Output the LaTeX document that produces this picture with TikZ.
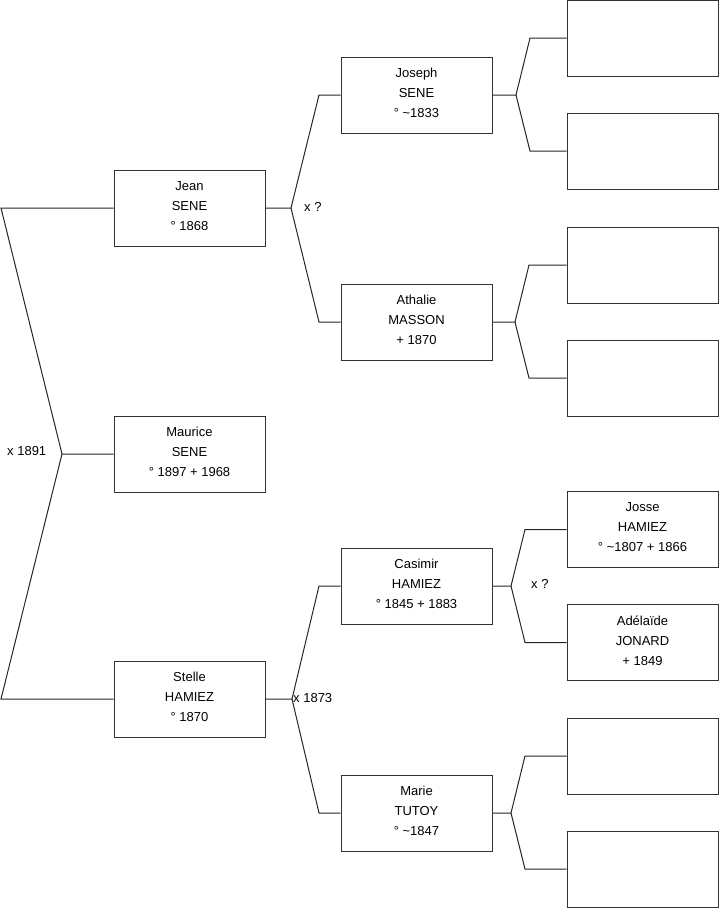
\documentclass[tikz,border=0pt]{standalone}
\usepackage{fontspec}
\setmainfont{Liberation Sans}
\begin{document}
\begin{tikzpicture}[x=1pt,y=-1pt,
  person/.style={draw=black!80,line width=1pt,fill=white,minimum width=151pt,minimum height=76pt,
    inner sep=0pt},
  ptext/.style={inner sep=0pt,align=center,yshift=2pt,font=\fontsize{13}{20}\selectfont},
  link/.style={draw=black!85,line width=1pt},
  union/.style={anchor=west,inner sep=0pt,font=\fontsize{13}{15}\selectfont}]
\useasboundingbox (0,0) rectangle (719,908);
% generation 1
\node[person,label={[ptext]center:Jean\\SENE\\° 1868}] (jean) at (189.5,208) {};
\node[person,label={[ptext]center:Maurice\\SENE\\° 1897 + 1968}] (maurice) at (189.5,454) {};
\node[person,label={[ptext]center:Stelle\\HAMIEZ\\° 1870}] (stelle) at (189.5,699) {};
% generation 2
\node[person,label={[ptext]center:Joseph\\SENE\\° \textasciitilde1833}] (joseph) at (416.5,95) {};
\node[person,label={[ptext]center:Athalie\\MASSON\\+ 1870}] (athalie) at (416.5,322) {};
\node[person,label={[ptext]center:Casimir\\HAMIEZ\\° 1845 + 1883}] (casimir) at (416.5,586) {};
\node[person,label={[ptext]center:Marie\\TUTOY\\° \textasciitilde1847}] (marie) at (416.5,813) {};
% generation 3
\node[person] (g1) at (642.5,38) {};
\node[person] (g2) at (642.5,151) {};
\node[person] (g3) at (642.5,265) {};
\node[person] (g4) at (642.5,378) {};
\node[person,label={[ptext]center:Josse\\HAMIEZ\\° \textasciitilde1807 + 1866}] (josse) at (642.5,529.5) {};
\node[person,label={[ptext]center:Adélaïde\\JONARD\\+ 1849}] (adelaide) at (642.5,642.5) {};
\node[person] (g7) at (642.5,756) {};
\node[person] (g8) at (642.5,869) {};
% fork points
\coordinate (fL) at (62,454);
\coordinate (fJ) at (291,208);
\coordinate (fS) at (292,699);
\coordinate (fJo) at (516,95);
\coordinate (fA) at (515,322);
\coordinate (fC) at (511,586);
\coordinate (fM) at (511,813);
% connectors
\draw[link] (maurice.west) -- (fL) -- (1,208) -- (jean.west);
\draw[link] (fL) -- (1,699) -- (stelle.west);
\draw[link] (jean.east) -- (fJ) -- (319,95) -- (joseph.west);
\draw[link] (fJ) -- (319,322) -- (athalie.west);
\draw[link] (stelle.east) -- (fS) -- (319,586) -- (casimir.west);
\draw[link] (fS) -- (319,813) -- (marie.west);
\draw[link] (joseph.east) -- (fJo) -- (530,38) -- (g1.west);
\draw[link] (fJo) -- (530,151) -- (g2.west);
\draw[link] (athalie.east) -- (fA) -- (529,265) -- (g3.west);
\draw[link] (fA) -- (529,378) -- (g4.west);
\draw[link] (casimir.east) -- (fC) -- (525,529.5) -- (josse.west);
\draw[link] (fC) -- (525,642.5) -- (adelaide.west);
\draw[link] (marie.east) -- (fM) -- (525,756) -- (g7.west);
\draw[link] (fM) -- (525,869) -- (g8.west);
% union labels
\node[union] (u1) at (7,451) {x 1891};
\node[union] (u2) at (304,207) {x ?};
\node[union] (u3) at (293,698) {x 1873};
\node[union] (u4) at (531,584) {x ?};
\end{tikzpicture}
\end{document}
